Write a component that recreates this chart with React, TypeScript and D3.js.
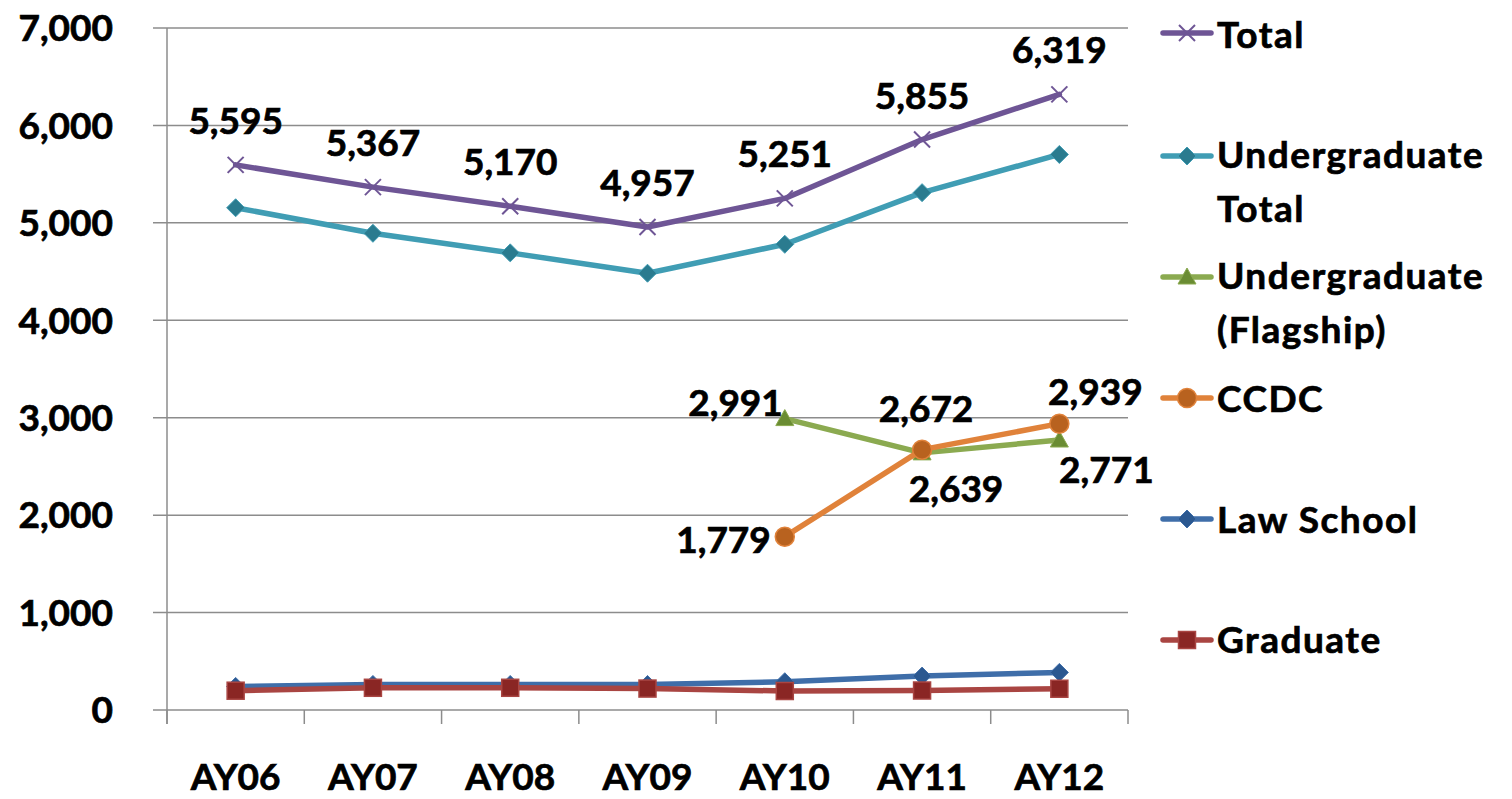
import React from "react";
import * as d3 from "d3";

const categories = ["AY06", "AY07", "AY08", "AY09", "AY10", "AY11", "AY12"];
const totalValues = [5595, 5367, 5170, 4957, 5251, 5855, 6319];
const undergradTotalValues = [5155, 4893, 4692, 4483, 4780, 5310, 5702];
const flagshipValues: (number | null)[] = [null, null, null, null, 2991, 2639, 2771];
const ccdcValues: (number | null)[] = [null, null, null, null, 1779, 2672, 2939];
const lawValues = [242, 262, 262, 262, 290, 348, 386];
const graduateValues = [198, 228, 228, 220, 195, 200, 218];
const yTicks = [0, 1000, 2000, 3000, 4000, 5000, 6000, 7000];

type Series = {
  name: string[];
  values: (number | null)[];
  line: string;
  fill: string;
  marker: "x" | "diamond" | "triangle" | "circle" | "square";
  labels: boolean;
};

const series: Series[] = [
  { name: ["Total"], values: totalValues, line: "#6E5595", fill: "#6E5595", marker: "x", labels: true },
  { name: ["Undergraduate", "Total"], values: undergradTotalValues, line: "#409DB4", fill: "#2A7B8F", marker: "diamond", labels: false },
  { name: ["Undergraduate", "(Flagship)"], values: flagshipValues, line: "#8BAA50", fill: "#6A8C33", marker: "triangle", labels: true },
  { name: ["CCDC"], values: ccdcValues, line: "#E0823A", fill: "#B8621F", marker: "circle", labels: true },
  { name: ["Law School"], values: lawValues, line: "#3F6EA9", fill: "#2B5890", marker: "diamond", labels: false },
  { name: ["Graduate"], values: graduateValues, line: "#A94542", fill: "#8A2624", marker: "square", labels: false },
];

// manual label placement (dx, dy for baseline, anchor) per series index / category index
const labelLayout: Record<string, { dx: number; dy: number; anchor: string }> = {
  "2-4": { dx: -2, dy: -3, anchor: "end" },
  "2-5": { dx: 34, dy: 49, anchor: "middle" },
  "2-6": { dx: 47, dy: 43, anchor: "middle" },
  "3-4": { dx: -14, dy: 16, anchor: "end" },
  "3-5": { dx: 4, dy: -28, anchor: "middle" },
  "3-6": { dx: 36, dy: -19, anchor: "middle" },
};

const FONT = "Lato, 'Open Sans', sans-serif";
const FS = 37;
const TEXT_STROKE = 0.7;

function Marker({ kind, x, y, fill, stroke }: { kind: string; x: number; y: number; fill: string; stroke: string }) {
  if (kind === "x") {
    const s = 8;
    return (
      <g stroke={fill} strokeWidth={2}>
        <line x1={x - s} y1={y - s} x2={x + s} y2={y + s} />
        <line x1={x - s} y1={y + s} x2={x + s} y2={y - s} />
      </g>
    );
  }
  if (kind === "diamond") {
    const s = 9;
    return <path d={`M${x},${y - s}L${x + s},${y}L${x},${y + s}L${x - s},${y}Z`} fill={fill} stroke={stroke} strokeWidth={1} />;
  }
  if (kind === "triangle") {
    return <path d={`M${x},${y - 9}L${x + 9},${y + 7}L${x - 9},${y + 7}Z`} fill={fill} stroke={stroke} strokeWidth={1} />;
  }
  if (kind === "circle") {
    return <circle cx={x} cy={y} r={9.5} fill={fill} stroke={stroke} strokeWidth={1.5} />;
  }
  return <rect x={x - 8.5} y={y - 8.5} width={17} height={17} fill={fill} stroke={stroke} strokeWidth={1.5} />;
}

export default function App() {
  const width = 1512;
  const height = 799;
  const left = 167;
  const right = 1128;
  const top = 28;
  const bottom = 710;

  const xBand = d3.scaleBand<string>().domain(categories).range([left, right]).padding(0);
  const xc = (c: string) => (xBand(c) as number) + xBand.bandwidth() / 2;
  const y = d3.scaleLinear().domain([0, 7000]).range([bottom, top]);
  const fmt = d3.format(",");

  const lineGen = d3
    .line<number | null>()
    .defined((d) => d !== null)
    .x((_, i) => xc(categories[i]))
    .y((d) => y(d as number));

  const boundaries = categories.map((c) => xBand(c) as number).concat([right]);

  const legendItems = [
    { lineY: 33, baselines: [48] },
    { lineY: 156, baselines: [168, 222] },
    { lineY: 277, baselines: [289, 343] },
    { lineY: 398, baselines: [412] },
    { lineY: 519, baselines: [533] },
    { lineY: 640, baselines: [653] },
  ];

  const textProps = { fontSize: FS, fill: "#000", stroke: "#000", strokeWidth: TEXT_STROKE };

  return (
    <svg width={width} height={height} style={{ position: "absolute", left: 0, top: 0, background: "#fff" }} fontFamily={FONT} fontWeight={700}>
      {/* gridlines */}
      {yTicks.map((t) => (
        <line key={t} x1={153} x2={right} y1={y(t)} y2={y(t)} stroke="#8C8C8C" strokeWidth={1.5} />
      ))}
      {/* y axis */}
      <line x1={left} x2={left} y1={top} y2={724} stroke="#8C8C8C" strokeWidth={1.5} />
      {/* x ticks */}
      {boundaries.map((b, i) => (
        <line key={i} x1={b} x2={b} y1={bottom} y2={724} stroke="#8C8C8C" strokeWidth={1.5} />
      ))}
      {/* y labels */}
      {yTicks.map((t) => (
        <text key={t} x={113} y={y(t)} dy="0.36em" textAnchor="end" {...textProps}>
          {fmt(t)}
        </text>
      ))}
      {/* x labels */}
      {categories.map((c) => (
        <text key={c} x={xc(c)} y={790} textAnchor="middle" {...textProps}>
          {c}
        </text>
      ))}
      {/* lines and markers */}
      {series.map((s, si) => (
        <g key={si}>
          <path d={lineGen(s.values) || ""} fill="none" stroke={s.line} strokeWidth={5.5} strokeLinejoin="round" strokeLinecap="round" />
          {s.values.map((v, i) =>
            v === null ? null : (
              <Marker key={i} kind={s.marker} x={xc(categories[i])} y={y(v)} fill={s.fill} stroke={s.line} />
            )
          )}
        </g>
      ))}
      {/* data labels */}
      {series.map((s, si) =>
        s.labels
          ? s.values.map((v, i) => {
              if (v === null) return null;
              const px = xc(categories[i]);
              const py = y(v);
              const lay = labelLayout[`${si}-${i}`] || { dx: 0, dy: -31, anchor: "middle" };
              return (
                <text key={`${si}-${i}`} x={px + lay.dx} y={py + lay.dy} textAnchor={lay.anchor} {...textProps}>
                  {fmt(v)}
                </text>
              );
            })
          : null
      )}
      {/* legend */}
      {series.map((s, si) => {
        const li = legendItems[si];
        return (
          <g key={si}>
            <line x1={1163} x2={1211} y1={li.lineY} y2={li.lineY} stroke={s.line} strokeWidth={5.5} strokeLinecap="round" />
            <Marker kind={s.marker} x={1187} y={li.lineY} fill={s.fill} stroke={s.line} />
            {s.name.map((n, k) => (
              <text key={k} x={1217} y={li.baselines[k]} letterSpacing={1.5} {...textProps}>
                {n}
              </text>
            ))}
          </g>
        );
      })}
    </svg>
  );
}
